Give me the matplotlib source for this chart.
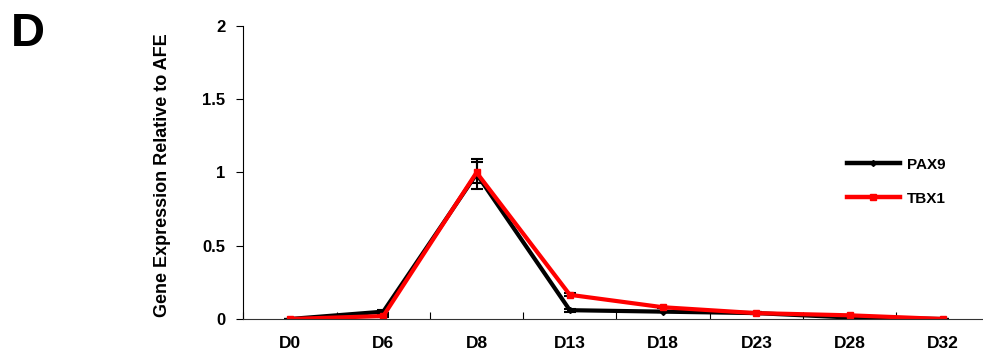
import numpy as np
import matplotlib
matplotlib.use('Agg')
import matplotlib.pyplot as plt
from matplotlib.lines import Line2D

plt.rcParams['font.family'] = ['Liberation Sans', 'DejaVu Sans']
plt.rcParams['font.weight'] = 'bold'

# time points and relative expression
days = ['D0', 'D6', 'D8', 'D13', 'D18', 'D23', 'D28', 'D32']
pax9 = [0.0, 0.05, 0.99, 0.06, 0.05, 0.04, 0.01, 0.0]
pax9_err = [0.0, 0.01, 0.10, 0.01, 0.005, 0.005, 0.005, 0.0]
tbx1 = [0.0, 0.02, 1.0, 0.165, 0.08, 0.04, 0.025, 0.0]
tbx1_err = [0.0, 0.005, 0.07, 0.01, 0.005, 0.005, 0.005, 0.0]

x = np.arange(len(days))

fig = plt.figure(figsize=(9.83, 3.56), dpi=100)
ax = fig.add_axes([0.2476, 0.104, 0.759, 0.823])

ax.errorbar(x, pax9, yerr=pax9_err, color='black', lw=3, marker='D', ms=3,
            ecolor='black', elinewidth=1.5, capsize=4, capthick=1.5)
ax.errorbar(x, tbx1, yerr=tbx1_err, color='#ff0000', lw=3, marker='s', ms=5,
            ecolor='black', elinewidth=1.5, capsize=4, capthick=1.5)

ax.set_xlim(-0.5, len(days) - 0.5)
ax.set_ylim(0, 2)
ax.set_yticks([0, 0.5, 1, 1.5, 2])
ax.set_yticklabels(['0', '0.5', '1', '1.5', '2'], fontsize=12, fontweight='bold')
ax.set_xticks(x)
ax.set_xticklabels(days, fontsize=12.5, fontweight='bold')
ax.set_xticks(np.arange(len(days) + 1) - 0.5, minor=True)
ax.tick_params(axis='x', which='major', length=0, pad=12)
ax.tick_params(axis='x', which='minor', direction='in', length=5, width=0.8)
ax.tick_params(axis='y', direction='out', length=5, width=0.8, pad=8)

ax.spines['top'].set_visible(False)
ax.spines['right'].set_visible(False)
ax.spines['left'].set_linewidth(0.8)
ax.spines['bottom'].set_linewidth(0.8)
ax.spines['bottom'].set_color('#333333')

ax.set_ylabel('Gene Expression Relative to AFE', fontsize=13, fontweight='bold')
ax.yaxis.set_label_coords(-0.097, 0.49)

handles = [Line2D([], [], color='black', lw=3.2, marker='D', ms=3),
           Line2D([], [], color='#ff0000', lw=3.2, marker='s', ms=5)]
ax.legend(handles, ['PAX9', 'TBX1'], loc='upper left', bbox_to_anchor=(0.79, 0.597),
          frameon=False, prop={'weight': 'bold', 'size': 11}, handlelength=3.5,
          labelspacing=1.3, handletextpad=0.45)

fig.text(0.011, 0.87, 'D', fontsize=34, fontweight='bold')

fig.savefig('out.png', dpi=100)
